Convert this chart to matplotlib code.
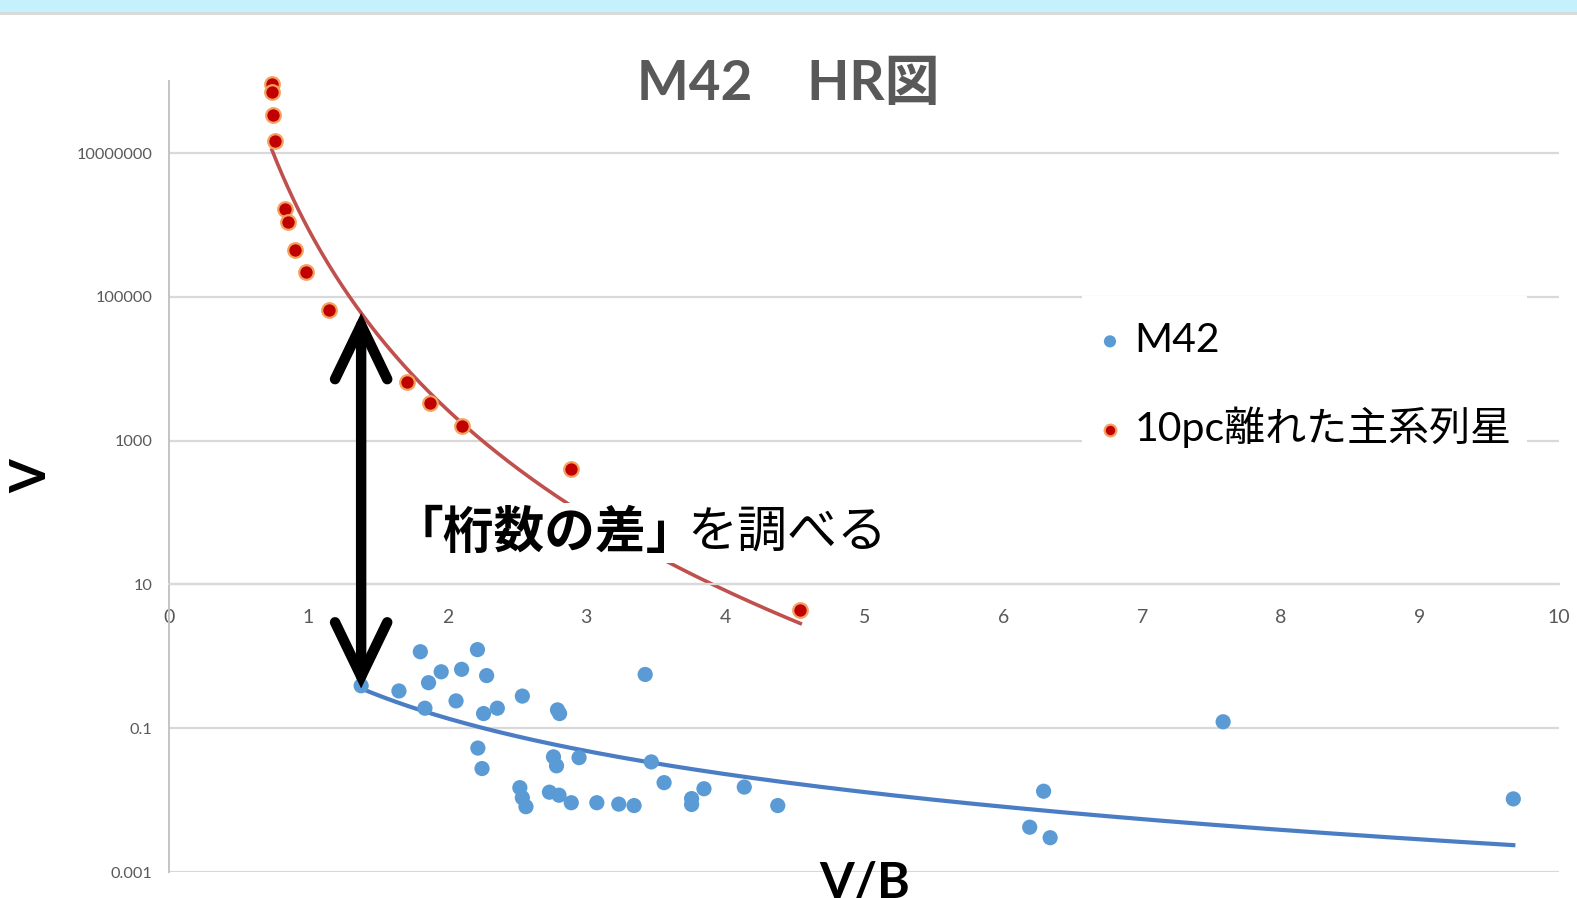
import matplotlib.pyplot as plt
import numpy as np
from matplotlib.patches import Rectangle
from matplotlib.ticker import NullLocator

plt.rcParams['font.family'] = ['Lato', 'Noto Sans CJK JP', 'DejaVu Sans']

# M42 の星 (V/B, V)
m42_vb = [1.38, 1.652, 1.806, 1.865, 1.839, 1.956, 2.063, 2.103, 2.217, 2.283,
          2.261, 2.360, 2.220, 2.250, 2.540, 2.793, 2.808, 2.764, 2.786, 2.948,
          2.522, 2.540, 2.566, 2.735, 2.804, 2.892, 3.076, 3.234, 3.344, 3.424,
          3.468, 3.560, 3.758, 3.758, 3.847, 4.137, 4.378, 7.583, 6.291, 6.191,
          6.338, 9.671]
m42_v = [0.39, 0.33, 1.16, 0.43, 0.19, 0.61, 0.24, 0.66, 1.24, 0.54,
         0.16, 0.19, 0.053, 0.0275, 0.28, 0.18, 0.16, 0.040, 0.030, 0.039,
         0.0149, 0.0108, 0.0081, 0.0129, 0.0117, 0.0092, 0.0092, 0.0088, 0.0084, 0.56,
         0.034, 0.0175, 0.0105, 0.0087, 0.0144, 0.0152, 0.0084, 0.123, 0.0133, 0.0042,
         0.0030, 0.0104]

# 10pc 離れた主系列星
ms_vb = [0.738, 0.738, 0.745, 0.760, 0.832, 0.854, 0.904, 0.984, 1.150, 1.708,
         1.874, 2.106, 2.887, 4.54]
ms_v = [9.2e7, 7.1e7, 3.4e7, 1.47e7, 1.65e6, 1.12e6, 4.5e5, 2.2e5, 6.6e4, 6.5e3,
        3.4e3, 1.6e3, 405, 4.4]

y_ticks = [1e-3, 1e-1, 1e1, 1e3, 1e5, 1e7]
y_tick_labels = ['0.001', '0.1', '10', '1000', '100000', '10000000']
x_ticks = list(range(11))


def power_fit(x, y):
    # 累乗近似 y = a * x^b
    b, log_a = np.polyfit(np.log(x), np.log(y), 1)
    return lambda t: np.exp(log_a) * np.asarray(t) ** b


fig = plt.figure(figsize=(15.77, 8.98), dpi=100)
fig.add_artist(Rectangle((0, 1 - 12 / 898), 1, 12 / 898, transform=fig.transFigure,
                         facecolor='#C5F1FD', edgecolor='none'))
fig.add_artist(Rectangle((0, 1 - 14.5 / 898), 1, 2.5 / 898, transform=fig.transFigure,
                         facecolor='#DADADA', edgecolor='none'))

ax = fig.add_axes([0.1074, 0.02895, 0.8812, 0.8805])
ax.set_yscale('log')
ax.set_xlim(0, 10)
ax.set_ylim(1e-3, 1e8)

ax.spines['top'].set_visible(False)
ax.spines['right'].set_visible(False)
ax.spines['bottom'].set_position(('data', 10))
ax.spines['bottom'].set_color('#D9D9D9')
ax.spines['bottom'].set_linewidth(1.6)
ax.spines['left'].set_color('#C4C4C4')
ax.spines['left'].set_linewidth(1.4)

ax.set_yticks(y_ticks)
ax.set_yticklabels(y_tick_labels)
ax.yaxis.set_minor_locator(NullLocator())
ax.set_xticks(x_ticks)
ax.tick_params(axis='y', length=0, pad=12, labelsize=11.7, labelcolor='#595959')
ax.tick_params(axis='x', length=0, pad=17.5, labelsize=14, labelcolor='#595959')
ax.set_axisbelow(True)
ax.grid(axis='y', color='#D9D9D9', lw=1.6)
ax.grid(axis='x', visible=False)

# 散布図
m42_pts = ax.scatter(m42_vb, m42_v, s=120, color='#5B9BD5', edgecolors='none',
                     zorder=3, clip_on=False, label='M42')
ms_pts = ax.scatter(ms_vb, ms_v, s=110, color='#C00000', edgecolors='#F4A15D',
                    linewidths=1.6, zorder=3, clip_on=False, label='10pc離れた主系列星')

# 近似曲線
fit_m42 = power_fit(m42_vb, m42_v)
fit_ms = power_fit(ms_vb, ms_v)
xs = np.linspace(min(m42_vb), max(m42_vb), 300)
ax.plot(xs, fit_m42(xs), color='#4A7DC4', lw=3, zorder=2)
xs = np.linspace(min(ms_vb), max(ms_vb), 300)
ax.plot(xs, fit_ms(xs), color='#C0504D', lw=2.6, zorder=2)

# 二本の近似曲線の間の矢印
x_arrow = min(m42_vb)
ax.annotate('', xy=(x_arrow, fit_m42(x_arrow)), xytext=(x_arrow, fit_ms(x_arrow)),
            arrowprops=dict(arrowstyle='<->,head_length=1.95,head_width=0.94',
                            mutation_scale=20, lw=7.5, color='black',
                            shrinkA=0, shrinkB=0, capstyle='round',
                            joinstyle='miter'),
            zorder=6)

# 凡例
ax.add_patch(Rectangle((0.657, 0.540), 0.32, 0.1885, transform=ax.transAxes,
                       facecolor='white', edgecolor='none', zorder=1))
ax.legend(handles=[m42_pts, ms_pts], loc='center left', bbox_to_anchor=(0.640, 0.616),
          frameon=False, fontsize=29.5, markerscale=0.8, handlelength=0.6,
          handletextpad=0.3, borderpad=0.45, labelspacing=1.15)

# タイトル・軸ラベル
fig.text(0.5, 0.907, 'M42　HR図', ha='center', va='center', fontsize=39.5,
         fontweight='bold', color='#595959')
fig.text(32 / 1577, 1 - 476 / 898, 'V', rotation=90, ha='center', va='center',
         fontsize=35, fontweight='bold', color='black')
fig.text(865 / 1577, 0.0, 'V/B', ha='center', va='baseline', fontsize=36,
         fontweight='bold', color='black')

# 注釈
note_y = 1 - 533 / 898
fig.text(393 / 1577, note_y, '「桁数の差」', ha='left', va='center', fontsize=36.5,
         fontweight='bold', family=['Noto Sans CJK JP'], color='black',
         bbox=dict(facecolor='white', edgecolor='none', pad=3), zorder=5)
fig.text(687 / 1577, note_y, 'を調べる', ha='left', va='center', fontsize=36,
         family=['Noto Sans CJK JP'], color='black', zorder=6)

fig.savefig('out.png', dpi=100)
